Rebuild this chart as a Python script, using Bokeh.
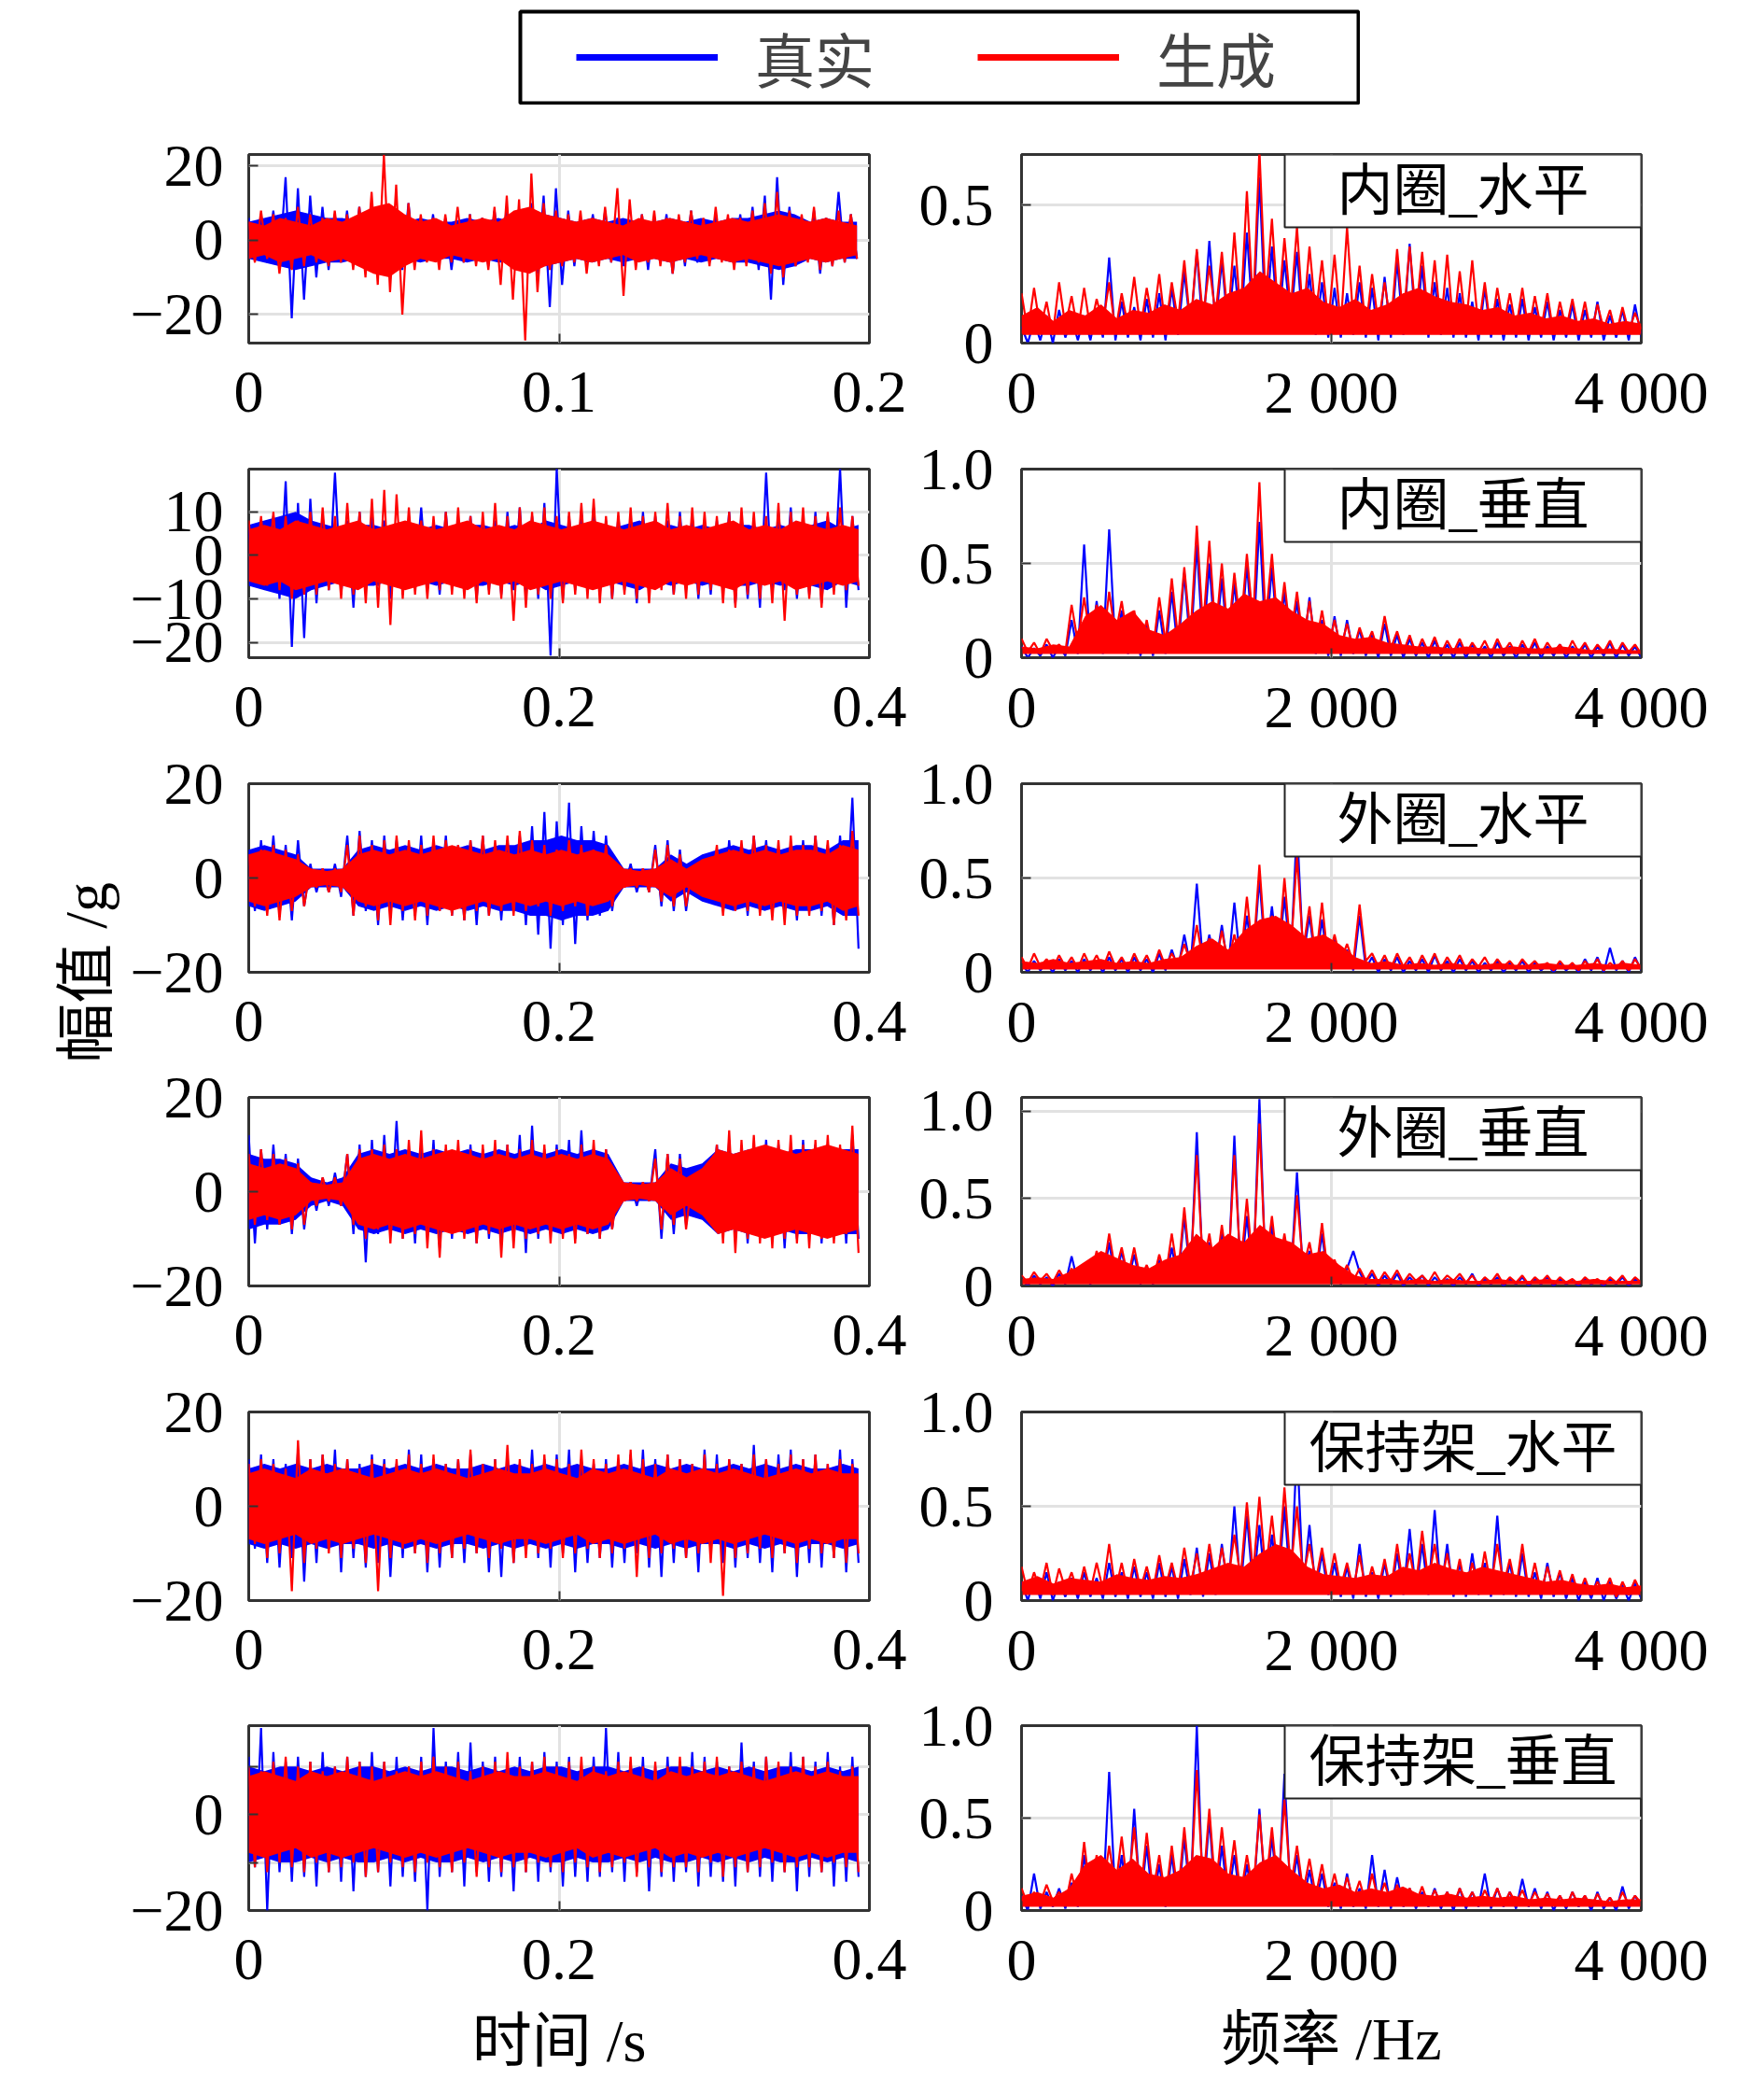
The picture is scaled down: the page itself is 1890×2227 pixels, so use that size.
import numpy as np
from bokeh.plotting import figure
from bokeh.models import Range1d, FixedTicker, Label, Legend, LegendItem, Spacer
from bokeh.layouts import row, column
from bokeh.embed import file_html
from bokeh.resources import INLINE

BLUE = "#0000ff"
RED = "#ff0000"
SERIF = "'Liberation Serif', 'Noto Sans CJK SC'"
CJK = "'Noto Sans CJK SC', 'Liberation Serif'"

# ---------------- data ----------------
legend_labels = ["真实", "生成"]
panel_labels = ["内圈_水平", "内圈_垂直", "外圈_水平", "外圈_垂直", "保持架_水平", "保持架_垂直"]
time_end = [0.196, 0.393, 0.393, 0.393, 0.393, 0.393]
freq_end = 4000

# time-domain signals (g): peak samples
t1_real = [6,-5,7,-6,8,-7,17,-21,14,-16, 12,-10,9,-8,7,-6,8,-7,9,-6, 6,-7,8,-6,7,-8,10,-6,6,-5,
           7,-6,6,-8,5,-6,7,-5,6,-7, 8,-6,9,-7,6,-8,10,-9,12,-18, 14,-12,8,-7,6,-6,7,-5,8,-6,
           6,-7,5,-6,7,-8,6,-5,7,-9, 6,-7,8,-6,5,-6,7,-5,6,-6, 7,-6,9,-8,12,-16,17,-12,9,-7,
           6,-5,8,-9,6,-7,13,-6,7,-5]
t1_gen = [5,-6,8,-5,7,-9,6,-8,9,-7, 7,-6,6,-7,8,-6,7,-8,9,-10, 13,-12,23,-14,15,-20,10,-8,7,-6,
          6,-8,7,-6,9,-6,7,-7,6,-8, 9,-12,12,-16,11,-27,18,-14,10,-8, 8,-7,7,-6,8,-9,6,-7,9,-6,
          14,-15,11,-8,7,-6,8,-7,6,-9, 7,-6,8,-5,6,-7,9,-6,7,-8, 6,-7,8,-6,10,-9,13,-10,8,-7,
          7,-6,9,-8,6,-7,8,-6,7,-5]
t2_real = [6,-7,8,-6,9,-10,17,-21,12,-19, 13,-11,9,-8,19,-9,8,-12,10,-8, 9,-7,8,-10,7,-9,8,-6,11,-8,
           7,-9,10,-7,8,-8,9,-10,7,-8, 8,-9,10,-8,11,-9,9,-10,12,-23, 20,-10,9,-8,10,-7,11,-9,8,-10,
           9,-8,7,-11,10,-8,9,-7,8,-9, 10,-8,9,-10,7,-9,8,-8,10,-11, 9,-10,8,-12,19,-9,10,-8,11,-10,
           8,-9,10,-11,9,-8,20,-12,9,-8]
t2_gen = [8,-6,9,-7,10,-8,9,-10,8,-9, 10,-9,11,-8,9,-10,12,-9,10,-11, 13,-12,15,-16,14,-10,11,-9,8,-10,
          9,-8,10,-9,11,-10,9,-11,10,-9, 12,-10,9,-15,11,-12,10,-9,11,-10, 9,-11,10,-9,12,-10,13,-11,9,-10,
          10,-9,11,-10,9,-11,10,-8,12,-9, 9,-10,11,-9,10,-8,9,-11,10,-12, 11,-9,10,-10,9,-11,12,-15,10,-9,
          11,-10,9,-12,10,-9,11,-8,9,-7]
t3_real = [6,-7,8,-6,9,-8,7,-9,8,-6, 3,-3,2,-3,3,-4,9,-8,10,-7, 8,-10,9,-7,8,-9,7,-8,9,-10,
           8,-7,9,-8,7,-9,8,-10,9,-8, 7,-9,8,-7,9,-10,11,-12,14,-15, 12,-10,16,-14,11,-9,10,-8,9,-7,
           3,-2,3,-3,2,-3,7,-6,8,-7, 6,-7,3,-4,3,-3,6,-7,8,-6, 7,-8,9,-6,8,-7,6,-8,7,-9,
           8,-7,9,-8,7,-10,9,-8,17,-15]
t3_gen = [5,-6,6,-8,7,-9,6,-7,5,-6, 2,-2,2,-3,2,-3,7,-8,9,-6, 7,-9,8,-10,9,-7,8,-9,7,-8,
          9,-7,8,-8,7,-9,8,-7,9,-8, 8,-7,9,-8,10,-7,8,-6,7,-8, 6,-7,8,-6,7,-8,6,-5,7,-6,
          2,-2,2,-2,2,-3,6,-5,7,-6, 5,-6,2,-3,2,-3,7,-8,6,-7, 8,-7,9,-8,7,-9,8,-10,9,-8,
          7,-8,9,-7,8,-10,7,-9,10,-8]
t4_real = [12,-11,9,-8,10,-7,8,-9,7,-8, 3,-4,3,-3,4,-3,8,-9,10,-15, 11,-9,12,-8,15,-10,9,-11,10,-9,
           11,-12,9,-10,8,-9,10,-11,9,-10, 8,-11,10,-9,12,-13,14,-10,9,-8, 10,-9,11,-10,13,-9,8,-10,9,-8,
           3,-2,2,-3,2,-2,9,-10,8,-9, 8,-7,5,-5,4,-5,10,-9,11,-10, 9,-11,10,-8,11,-9,10,-12,9,-10,
           11,-9,10,-11,9,-10,8,-11,12,-10]
t4_gen = [8,-7,9,-6,8,-7,7,-8,6,-7, 2,-3,3,-2,3,-3,8,-7,9,-10, 9,-8,10,-11,9,-10,11,-9,13,-12,
          9,-14,10,-9,11,-10,9,-11,10,-9, 11,-14,10,-12,9,-10,11,-9,10,-11, 9,-10,8,-11,10,-9,11,-10,9,-8,
          2,-2,2,-2,2,-2,7,-8,8,-7, 7,-8,3,-4,3,-4,10,-11,13,-13, 11,-10,12,-11,10,-12,11,-10,12,-11,
          10,-12,11,-10,12,-11,10,-9,14,-13]
t5_real = [10,-9,11,-12,10,-13,9,-11,12,-16, 10,-12,11,-9,12,-14,10,-11,9,-13, 11,-12,10,-15,9,-11,12,-10,11,-14,
           10,-13,9,-11,10,-12,11,-10,9,-14, 10,-15,11,-12,9,-10,12,-11,10,-13, 11,-10,12,-14,10,-12,9,-11,10,-13,
           9,-12,11,-10,12,-13,10,-15,11,-12, 10,-11,9,-14,12,-10,11,-12,10,-13, 9,-11,13,-12,10,-14,11,-10,12,-15,
           10,-12,11,-13,9,-11,12,-14,10,-12]
t5_gen = [9,-8,10,-11,9,-10,8,-18,14,-12, 10,-9,11,-10,9,-11,10,-9,8,-12, 10,-18,9,-11,10,-9,11,-10,9,-12,
          11,-10,9,-11,10,-9,12,-10,9,-11, 10,-9,13,-12,10,-11,9,-10,11,-9, 10,-11,9,-10,12,-9,10,-11,9,-10,
          11,-9,12,-15,10,-11,9,-10,11,-9, 10,-11,9,-10,11,-12,9,-19,10,-11, 9,-10,11,-9,10,-11,9,-10,11,-12,
          10,-9,11,-10,9,-11,10,-12,9,-10]
t6_real = [12,-11,18,-20,13,-12,11,-14,12,-13, 11,-15,13,-12,10,-14,12,-16,11,-13, 13,-12,11,-15,12,-13,10,-14,12,-20,
           18,-13,11,-12,13,-15,15,-12,11,-14, 12,-13,10,-16,12,-12,11,-14,13,-12, 11,-15,12,-13,10,-14,12,-13,18,-12,
           13,-14,11,-12,12,-16,10,-13,12,-14, 11,-12,13,-15,12,-13,11,-14,10,-15, 15,-12,11,-13,12,-14,10,-12,13,-16,
           12,-13,11,-12,13,-15,10,-14,12,-13]
t6_gen = [10,-11,9,-12,11,-10,12,-11,10,-12, 11,-10,9,-12,10,-11,12,-10,11,-13, 10,-12,11,-10,9,-11,10,-12,11,-10,
          12,-11,10,-12,11,-10,9,-13,10,-11, 11,-12,13,-11,10,-12,11,-10,12,-11, 10,-12,11,-10,12,-11,10,-12,9,-11,
          11,-10,12,-13,10,-11,11,-12,10,-11, 12,-11,10,-12,11,-10,12,-13,10,-11, 11,-12,10,-11,12,-10,11,-12,10,-11,
          12,-11,10,-12,11,-10,9,-11,10,-12]

# dense core amplitude of the time signals (g), 40 points along each record
t1_real_band = [5,6,7,8,7,6,6,5,5,6, 5,6,5,5,6,5,6,5,6,7, 6,5,6,5,6,5,5,6,5,6, 5,6,6,7,8,7,5,6,5,5]
t1_gen_band = [5,4,6,5,4,6,5,7,9,10, 7,5,6,4,5,6,5,8,9,7, 6,5,6,5,4,6,5,6,5,4, 5,6,5,6,7,6,5,6,5,4]
t2_real_band = [7,8,9,10,8,7,6,7,7,6, 7,6,7,6,7,7,6,7,6,8, 7,6,7,6,7,8,6,7,6,7, 6,7,7,6,7,6,7,8,6,7]
t2_gen_band = [6,7,6,8,7,6,7,8,6,7, 8,7,6,7,8,6,7,6,8,7, 6,7,8,7,6,7,8,6,7,6, 7,8,6,7,6,8,7,6,7,6]
t3_real_band = [6,7,6,5,2,2,2,6,7,6, 7,6,7,6,7,6,7,7,8,8, 9,8,8,7,2,2,2,5,3,5, 6,7,6,7,6,7,7,6,8,8]
t3_gen_band = [5,6,5,4,2,1.5,2,5,6,5, 6,5,6,7,6,5,6,5,6,5, 6,5,6,5,2,1.5,2,4,2,4, 5,6,5,6,5,6,6,5,7,6]
t4_real_band = [8,7,7,6,3,2,3,8,9,8, 9,8,9,8,9,8,9,8,9,8, 9,8,9,8,2,2,2,6,5,6, 9,8,9,9,8,9,9,8,9,9]
t4_gen_band = [6,5,6,5,2,1.5,2,7,8,7, 8,7,8,9,8,7,8,7,8,7, 8,7,8,7,2,1.5,2,5,3,5, 9,8,9,10,9,8,9,10,9,8]
t5_real_band = [8,9,8,9,8,9,8,8,9,8, 9,8,9,8,8,9,8,9,8,9, 8,9,8,8,9,8,9,8,9,8, 8,9,8,9,8,9,8,8,9,8]
t5_gen_band = [7,8,7,6,8,7,8,7,6,7, 8,7,8,7,6,7,8,7,7,8, 7,6,8,7,8,7,6,8,7,8, 7,8,7,6,7,8,7,8,7,7]
t6_real_band = [10,9,10,10,9,10,9,10,10,9, 10,9,10,10,9,10,9,10,9,10, 10,9,10,10,9,10,9,10,10,9, 10,9,10,9,10,10,9,10,9,10]
t6_gen_band = [8,9,8,7,9,8,9,8,7,8, 9,8,9,8,7,8,9,8,8,9, 8,7,9,8,9,8,7,9,8,9, 8,9,8,7,8,9,8,9,8,8]

# amplitude spectra: peak samples
f1_real = [0.06,0.0,0.08,0.01,0.1,0.0,0.12,0.02,0.09,0.01, 0.1,0.01,0.12,0.02,0.31,0.01,0.15,0.02,0.13,0.01,
           0.16,0.02,0.18,0.01,0.2,0.03,0.26,0.05,0.33,0.04, 0.37,0.06,0.3,0.05,0.28,0.04,0.4,0.07,0.6,0.06,
           0.35,0.05,0.3,0.08,0.33,0.04,0.25,0.03,0.22,0.02, 0.2,0.02,0.18,0.03,0.22,0.02,0.2,0.01,0.24,0.02,
           0.3,0.03,0.36,0.04,0.28,0.02,0.22,0.03,0.2,0.02, 0.18,0.02,0.15,0.01,0.2,0.02,0.16,0.01,0.14,0.02,
           0.16,0.01,0.13,0.02,0.15,0.01,0.12,0.02,0.14,0.01, 0.12,0.02,0.15,0.01,0.1,0.02,0.12,0.01,0.14,0.02]
f1_gen = [0.18,0.04,0.2,0.05,0.15,0.03,0.22,0.06,0.17,0.04, 0.2,0.05,0.16,0.07,0.22,0.04,0.18,0.06,0.24,0.05,
          0.2,0.07,0.25,0.05,0.22,0.08,0.3,0.06,0.34,0.09, 0.28,0.1,0.33,0.08,0.4,0.1,0.55,0.12,0.7,0.15,
          0.45,0.1,0.38,0.12,0.42,0.08,0.35,0.1,0.3,0.07, 0.32,0.06,0.42,0.08,0.28,0.05,0.25,0.07,0.22,0.06,
          0.34,0.08,0.35,0.1,0.33,0.07,0.3,0.06,0.32,0.05, 0.26,0.06,0.3,0.05,0.22,0.04,0.2,0.06,0.18,0.05,
          0.2,0.04,0.17,0.05,0.18,0.03,0.15,0.05,0.16,0.04, 0.15,0.03,0.14,0.05,0.12,0.03,0.13,0.04,0.11,0.05]
f2_real = [0.06,0.0,0.05,0.01,0.07,0.0,0.06,0.01,0.2,0.02, 0.6,0.03,0.3,0.02,0.68,0.04,0.25,0.02,0.22,0.01,
           0.18,0.01,0.25,0.02,0.35,0.03,0.45,0.04,0.6,0.05, 0.5,0.06,0.42,0.04,0.4,0.05,0.5,0.06,0.72,0.08,
           0.48,0.06,0.35,0.04,0.3,0.03,0.32,0.02,0.2,0.01, 0.22,0.01,0.2,0.02,0.15,0.01,0.12,0.0,0.18,0.01,
           0.12,0.0,0.1,0.01,0.08,0.0,0.09,0.01,0.07,0.0, 0.08,0.0,0.07,0.01,0.06,0.0,0.08,0.01,0.06,0.0,
           0.07,0.01,0.08,0.0,0.06,0.01,0.07,0.0,0.06,0.01, 0.07,0.0,0.06,0.01,0.08,0.0,0.07,0.01,0.06,0.0]
f2_gen = [0.1,0.03,0.08,0.02,0.1,0.04,0.07,0.03,0.28,0.08, 0.32,0.1,0.28,0.06,0.35,0.12,0.3,0.08,0.25,0.05,
          0.2,0.04,0.32,0.08,0.42,0.1,0.48,0.12,0.7,0.15, 0.62,0.12,0.5,0.1,0.45,0.15,0.55,0.18,0.93,0.2,
          0.55,0.12,0.4,0.1,0.35,0.08,0.3,0.06,0.25,0.05, 0.2,0.05,0.18,0.04,0.16,0.06,0.14,0.03,0.22,0.05,
          0.14,0.03,0.12,0.02,0.1,0.03,0.11,0.02,0.09,0.03, 0.1,0.02,0.08,0.03,0.09,0.02,0.1,0.03,0.08,0.02,
          0.09,0.03,0.1,0.02,0.08,0.03,0.07,0.02,0.09,0.03, 0.08,0.02,0.07,0.03,0.09,0.02,0.08,0.03,0.07,0.02]
f3_real = [0.05,0.0,0.06,0.01,0.05,0.0,0.07,0.01,0.06,0.0, 0.07,0.01,0.06,0.0,0.08,0.01,0.07,0.0,0.08,0.01,
           0.07,0.0,0.1,0.01,0.12,0.02,0.2,0.03,0.47,0.04, 0.2,0.03,0.25,0.02,0.37,0.04,0.3,0.05,0.5,0.06,
           0.35,0.05,0.4,0.06,0.78,0.08,0.3,0.04,0.28,0.03, 0.18,0.02,0.12,0.01,0.3,0.02,0.08,0.0,0.07,0.01,
           0.08,0.0,0.06,0.01,0.07,0.0,0.09,0.01,0.06,0.0, 0.07,0.01,0.06,0.0,0.05,0.01,0.06,0.0,0.05,0.01,
           0.06,0.0,0.05,0.01,0.04,0.0,0.05,0.01,0.04,0.0, 0.07,0.01,0.08,0.0,0.13,0.01,0.06,0.0,0.08,0.01]
f3_gen = [0.08,0.02,0.1,0.03,0.07,0.02,0.09,0.03,0.08,0.02, 0.1,0.03,0.09,0.02,0.11,0.03,0.08,0.02,0.1,0.03,
          0.09,0.02,0.12,0.03,0.1,0.04,0.15,0.05,0.25,0.06, 0.18,0.04,0.22,0.05,0.2,0.06,0.4,0.08,0.57,0.1,
          0.3,0.08,0.5,0.1,0.62,0.12,0.35,0.06,0.37,0.05, 0.2,0.06,0.15,0.05,0.36,0.06,0.1,0.03,0.09,0.02,
          0.1,0.03,0.08,0.02,0.09,0.03,0.1,0.02,0.08,0.03, 0.09,0.02,0.07,0.03,0.08,0.02,0.07,0.03,0.06,0.02,
          0.07,0.03,0.06,0.02,0.05,0.01,0.06,0.02,0.05,0.01, 0.06,0.02,0.07,0.01,0.05,0.02,0.06,0.01,0.07,0.02]
f4_real = [0.04,0.0,0.06,0.01,0.05,0.0,0.07,0.01,0.17,0.02, 0.08,0.01,0.15,0.02,0.25,0.03,0.2,0.02,0.18,0.01,
           0.1,0.01,0.15,0.02,0.22,0.03,0.4,0.04,0.88,0.05, 0.25,0.03,0.3,0.04,0.86,0.05,0.4,0.04,1.07,0.06,
           0.35,0.04,0.25,0.03,0.65,0.05,0.2,0.03,0.3,0.02, 0.12,0.01,0.1,0.2,0.08,0.01,0.07,0.0,0.06,0.01,
           0.07,0.0,0.05,0.01,0.06,0.0,0.05,0.01,0.04,0.0, 0.05,0.01,0.07,0.0,0.04,0.01,0.05,0.0,0.04,0.01,
           0.05,0.0,0.04,0.01,0.05,0.0,0.04,0.01,0.03,0.0, 0.04,0.01,0.03,0.0,0.04,0.01,0.05,0.0,0.04,0.01]
f4_gen = [0.06,0.02,0.08,0.03,0.07,0.02,0.09,0.03,0.1,0.04, 0.12,0.04,0.2,0.06,0.3,0.08,0.22,0.05,0.22,0.04,
          0.12,0.03,0.18,0.05,0.3,0.06,0.45,0.08,0.75,0.1, 0.3,0.06,0.35,0.08,0.75,0.1,0.5,0.08,0.93,0.1,
          0.4,0.08,0.3,0.06,0.52,0.1,0.25,0.06,0.36,0.05, 0.15,0.04,0.12,0.03,0.1,0.03,0.09,0.02,0.08,0.03,
          0.09,0.02,0.07,0.03,0.06,0.02,0.08,0.02,0.06,0.03, 0.07,0.02,0.06,0.01,0.05,0.02,0.07,0.01,0.05,0.02,
          0.06,0.01,0.05,0.02,0.06,0.01,0.05,0.02,0.04,0.01, 0.05,0.02,0.04,0.01,0.05,0.02,0.06,0.01,0.05,0.02]
f5_real = [0.1,0.0,0.12,0.01,0.15,0.0,0.1,0.02,0.12,0.01, 0.15,0.02,0.12,0.01,0.2,0.02,0.15,0.01,0.18,0.02,
           0.15,0.01,0.2,0.02,0.18,0.01,0.22,0.03,0.28,0.02, 0.25,0.03,0.3,0.04,0.5,0.05,0.45,0.06,0.4,0.05,
           0.35,0.06,0.5,0.05,0.83,0.07,0.4,0.05,0.25,0.03, 0.2,0.02,0.18,0.01,0.3,0.02,0.15,0.01,0.2,0.02,
           0.25,0.03,0.38,0.04,0.3,0.03,0.48,0.04,0.3,0.02, 0.2,0.02,0.25,0.03,0.2,0.02,0.45,0.03,0.2,0.02,
           0.25,0.02,0.15,0.01,0.2,0.02,0.15,0.01,0.12,0.0, 0.1,0.01,0.12,0.0,0.1,0.01,0.08,0.0,0.09,0.01]
f5_gen = [0.18,0.04,0.15,0.05,0.2,0.03,0.17,0.06,0.15,0.04, 0.18,0.05,0.2,0.06,0.3,0.05,0.2,0.04,0.22,0.06,
          0.18,0.05,0.24,0.07,0.2,0.06,0.28,0.08,0.25,0.07, 0.3,0.09,0.28,0.1,0.35,0.12,0.52,0.14,0.55,0.15,
          0.45,0.13,0.6,0.15,0.5,0.12,0.3,0.1,0.28,0.08, 0.25,0.07,0.2,0.06,0.24,0.05,0.18,0.06,0.22,0.05,
          0.3,0.07,0.25,0.08,0.37,0.1,0.3,0.08,0.25,0.06, 0.22,0.05,0.2,0.06,0.26,0.07,0.3,0.08,0.22,0.06,
          0.3,0.05,0.2,0.04,0.18,0.05,0.16,0.04,0.14,0.03, 0.12,0.03,0.1,0.04,0.12,0.02,0.1,0.03,0.11,0.04]
f6_real = [0.08,0.0,0.2,0.01,0.1,0.02,0.12,0.01,0.15,0.02, 0.3,0.03,0.2,0.04,0.75,0.05,0.3,0.03,0.55,0.04,
           0.35,0.03,0.25,0.02,0.3,0.03,0.4,0.04,1.0,0.05, 0.5,0.04,0.35,0.05,0.3,0.03,0.25,0.04,0.55,0.06,
           0.4,0.05,0.74,0.06,0.3,0.04,0.22,0.03,0.2,0.02, 0.15,0.01,0.2,0.02,0.12,0.01,0.3,0.02,0.22,0.01,
           0.18,0.02,0.12,0.01,0.1,0.02,0.12,0.01,0.1,0.0, 0.12,0.01,0.1,0.02,0.2,0.01,0.12,0.02,0.1,0.01,
           0.17,0.02,0.12,0.01,0.1,0.0,0.08,0.01,0.1,0.02, 0.08,0.0,0.1,0.01,0.07,0.0,0.13,0.01,0.08,0.02]
f6_gen = [0.12,0.03,0.1,0.04,0.14,0.05,0.1,0.03,0.2,0.05, 0.37,0.08,0.3,0.1,0.35,0.12,0.4,0.1,0.45,0.08,
          0.42,0.1,0.3,0.06,0.35,0.08,0.45,0.1,0.76,0.12, 0.55,0.1,0.45,0.12,0.38,0.08,0.3,0.1,0.52,0.12,
          0.45,0.1,0.6,0.12,0.35,0.1,0.28,0.08,0.25,0.06, 0.2,0.05,0.18,0.06,0.16,0.04,0.2,0.05,0.15,0.04,
          0.14,0.03,0.12,0.04,0.13,0.03,0.11,0.04,0.1,0.03, 0.12,0.04,0.1,0.03,0.11,0.04,0.12,0.03,0.1,0.04,
          0.11,0.03,0.1,0.04,0.09,0.03,0.08,0.02,0.1,0.03, 0.08,0.02,0.09,0.03,0.07,0.02,0.1,0.03,0.08,0.04]

# dense core of the generated spectra: floor per panel, top at 40 points over 0-4000 Hz
spec_gen_lo = [0.03, 0.02, 0.015, 0.01, 0.03, 0.02]
f1_gen_hi = [0.1,0.13,0.08,0.12,0.1,0.14,0.09,0.12,0.11,0.14, 0.12,0.16,0.14,0.18,0.2,0.26,0.22,0.18,0.2,0.15,
             0.13,0.16,0.12,0.14,0.18,0.2,0.17,0.15,0.14,0.12, 0.13,0.1,0.11,0.09,0.1,0.08,0.09,0.07,0.08,0.07]
f2_gen_hi = [0.06,0.05,0.07,0.06,0.22,0.28,0.2,0.25,0.15,0.12, 0.18,0.25,0.3,0.26,0.34,0.3,0.32,0.25,0.2,0.18,
             0.12,0.1,0.11,0.08,0.07,0.06,0.06,0.05,0.06,0.05, 0.05,0.06,0.05,0.05,0.06,0.05,0.04,0.05,0.04,0.04]
f3_gen_hi = [0.06,0.05,0.07,0.05,0.06,0.07,0.05,0.06,0.05,0.07, 0.08,0.14,0.18,0.12,0.22,0.28,0.3,0.25,0.18,0.2,
             0.15,0.08,0.05,0.06,0.04,0.05,0.04,0.05,0.04,0.04, 0.05,0.04,0.04,0.05,0.04,0.04,0.05,0.04,0.05,0.04]
f4_gen_hi = [0.04,0.05,0.04,0.08,0.14,0.2,0.16,0.12,0.1,0.15, 0.18,0.3,0.22,0.3,0.25,0.35,0.28,0.25,0.18,0.2,
             0.12,0.06,0.04,0.04,0.03,0.04,0.03,0.04,0.03,0.03, 0.04,0.03,0.03,0.04,0.03,0.03,0.04,0.03,0.03,0.03]
f5_gen_hi = [0.1,0.13,0.09,0.12,0.11,0.1,0.14,0.12,0.11,0.13, 0.12,0.14,0.17,0.2,0.18,0.25,0.3,0.27,0.18,0.14,
             0.13,0.12,0.14,0.13,0.18,0.16,0.2,0.17,0.15,0.18, 0.16,0.14,0.12,0.1,0.11,0.09,0.08,0.09,0.07,0.08]
f6_gen_hi = [0.08,0.1,0.07,0.12,0.25,0.3,0.22,0.28,0.2,0.18, 0.22,0.3,0.28,0.2,0.18,0.26,0.3,0.22,0.15,0.12,
             0.14,0.1,0.12,0.1,0.13,0.09,0.08,0.09,0.07,0.08, 0.07,0.08,0.06,0.07,0.06,0.07,0.06,0.05,0.06,0.06]

# axis ranges and ticks
time_yrange = [(-27.7, 23.1), (-23.5, 19.8), (-20, 20), (-20, 20), (-20, 20), (-20, 18.5)]
time_yticks = [[-20, 0, 20], [-20, -10, 0, 10], [-20, 0, 20], [-20, 0, 20], [-20, 0, 20], [-20, -10, 0, 10]]
time_ylabels = [["\u221220", "0", "20"], ["\u221220", "\u221210", "0", "10"], ["\u221220", "0", "20"],
                ["\u221220", "0", "20"], ["\u221220", "0", "20"], ["\u221220", "", "0", ""]]
time_xticks = [[0, 0.1, 0.2]] + [[0, 0.2, 0.4]] * 5
time_xlabels = [["0", "0.1", "0.2"]] + [["0", "0.2", "0.4"]] * 5
spec_ymax = [0.683, 1.0, 1.0, 1.08, 1.0, 1.0]
spec_yticks = [[0, 0.5]] + [[0, 0.5, 1.0]] * 5
spec_ylabels = [["0", "0.5"]] + [["0", "0.5", "1.0"]] * 5
spec_xticks = [0, 2000, 4000]
spec_xlabels = ["0", "2 000", "4 000"]
x_titles = ["时间 /s", "频率 /Hz"]
y_title = "幅值 /g"

time_series = [(t1_real, t1_gen, t1_real_band, t1_gen_band), (t2_real, t2_gen, t2_real_band, t2_gen_band),
               (t3_real, t3_gen, t3_real_band, t3_gen_band), (t4_real, t4_gen, t4_real_band, t4_gen_band),
               (t5_real, t5_gen, t5_real_band, t5_gen_band), (t6_real, t6_gen, t6_real_band, t6_gen_band)]
spec_series = [(f1_real, f1_gen, f1_gen_hi), (f2_real, f2_gen, f2_gen_hi), (f3_real, f3_gen, f3_gen_hi),
               (f4_real, f4_gen, f4_gen_hi), (f5_real, f5_gen, f5_gen_hi), (f6_real, f6_gen, f6_gen_hi)]

# ---------------- layout (pixels) ----------------
ROW_H = [354, 337, 336, 337, 336, 412]
TOP_B = [53, 36, 36, 36, 36, 36]
FRAME_H = 202
LEFT_W, RIGHT_W = 847, 907
TICK_FONT = "64px"
GRID_COLOR = "#e2e2e2"
FRAME_COLOR = "#333333"
XSTAND_LEFT, XSTAND_RIGHT = 31, 17
TITLE_STAND_LEFT, TITLE_STAND_RIGHT = 28, 11


def style(p, xticks, xlabels, yticks, ylabels, xstand, ystand):
    p.xaxis.ticker = FixedTicker(ticks=xticks)
    p.yaxis.ticker = FixedTicker(ticks=yticks)
    p.xaxis.major_label_overrides = {t: l for t, l in zip(xticks, xlabels)}
    p.yaxis.major_label_overrides = {t: l for t, l in zip(yticks, ylabels)}
    for ax in (p.xaxis, p.yaxis):
        ax.major_label_text_font = "Liberation Serif"
        ax.major_label_text_font_size = TICK_FONT
        ax.major_label_text_color = "black"
        ax.axis_line_color = None
        ax.major_tick_in = 10
        ax.major_tick_out = 0
        ax.major_tick_line_color = FRAME_COLOR
        ax.major_tick_line_width = 2
        ax.minor_tick_line_color = None
    p.xaxis.major_label_standoff = xstand
    p.yaxis.major_label_standoff = ystand
    p.grid.grid_line_color = GRID_COLOR
    p.grid.grid_line_width = 3
    p.outline_line_color = FRAME_COLOR
    p.outline_line_width = 3
    p.background_fill_color = "white"
    p.border_fill_color = "white"


def set_title(p, text, standoff):
    p.xaxis.axis_label = text
    p.xaxis.axis_label_text_font = SERIF
    p.xaxis.axis_label_text_font_size = "64px"
    p.xaxis.axis_label_text_font_style = "normal"
    p.xaxis.axis_label_text_color = "black"
    p.xaxis.axis_label_standoff = standoff


rows = []
for k in range(6):
    h = ROW_H[k]
    bot = h - TOP_B[k] - FRAME_H
    real, gen, rband, gband = time_series[k]
    t = np.linspace(0, time_end[k], len(real))
    tb = np.linspace(0, time_end[k], len(rband))
    ylo, yhi = time_yrange[k]
    pl = figure(width=LEFT_W, height=h, title=None, toolbar_location=None, output_backend="svg",
                x_range=Range1d(0, time_xticks[k][-1]), y_range=Range1d(ylo, yhi),
                min_border_left=138, min_border_right=44, min_border_top=TOP_B[k], min_border_bottom=bot)
    rb = np.array(rband, dtype=float)
    gb = np.array(gband, dtype=float)
    pl.varea(x=tb, y1=-rb, y2=rb, fill_color=BLUE)
    pl.line(t, real, line_color=BLUE, line_width=2.2)
    pl.varea(x=tb, y1=-gb, y2=gb, fill_color=RED)
    pl.line(t, gen, line_color=RED, line_width=2.2)
    style(pl, time_xticks[k], time_xlabels[k], time_yticks[k], time_ylabels[k], XSTAND_LEFT, 27)

    sr, sg, sg_hi = spec_series[k]
    f = np.linspace(0, freq_end, len(sr))
    fb = np.linspace(0, freq_end, len(sg_hi))
    pr = figure(width=RIGHT_W, height=h, title=None, toolbar_location=None, output_backend="svg",
                x_range=Range1d(0, freq_end), y_range=Range1d(0, spec_ymax[k]),
                min_border_left=119, min_border_right=124, min_border_top=TOP_B[k], min_border_bottom=bot)
    pr.line(f, sr, line_color=BLUE, line_width=2.2)
    pr.varea(x=fb, y1=spec_gen_lo[k], y2=sg_hi, fill_color=RED)
    pr.line(f, sg, line_color=RED, line_width=2.2)
    style(pr, spec_xticks, spec_xlabels, spec_yticks[k], spec_ylabels[k], XSTAND_RIGHT, 30)
    n = len(panel_labels[k])
    text_w = (n - 1) * 60 + 30
    pad_h = max(4, int((382 - text_w) / 2))
    pr.add_layout(Label(x=freq_end, y=spec_ymax[k], text=panel_labels[k], anchor="top_right",
                        text_font=SERIF, text_font_size="60px", text_color="black",
                        background_fill_color="white", border_line_color="#222222",
                        border_line_width=2, padding=(pad_h, 6)))
    if k == 5:
        set_title(pl, x_titles[0], TITLE_STAND_LEFT)
        set_title(pr, x_titles[1], TITLE_STAND_RIGHT)
    rows.append(row(pl, pr))

# y title column
yf = figure(width=128, height=sum(ROW_H), title=None, toolbar_location=None, output_backend="svg",
            x_range=Range1d(0, 1), y_range=Range1d(0, 1), min_border=0,
            x_axis_location=None, y_axis_location=None, outline_line_color=None)
yf.grid.visible = False
yf.add_layout(Label(x=0.719, y=0.560, text=y_title, angle=np.pi / 2, text_align="center",
                    text_baseline="middle", text_font=SERIF, text_font_size="64px", text_color="black"))

# legend box (its swatch lines reuse the first record, drawn outside the visible range)
lf = figure(width=902, height=102, title=None, toolbar_location=None, output_backend="svg",
            x_range=Range1d(10, 11), y_range=Range1d(100, 101),
            x_axis_location=None, y_axis_location=None, min_border=2,
            outline_line_color="black", outline_line_width=4)
lf.grid.visible = False
t_leg = np.linspace(0, time_end[0], len(t1_real))
r_real = lf.line(t_leg, t1_real, line_color=BLUE, line_width=7)
r_gen = lf.line(t_leg, t1_gen, line_color=RED, line_width=7)
leg = Legend(items=[LegendItem(label=legend_labels[0], renderers=[r_real]),
                    LegendItem(label=legend_labels[1], renderers=[r_gen])],
             orientation="horizontal", location="center_left", border_line_alpha=0,
             background_fill_alpha=0, label_text_font=CJK, label_text_font_size="64px",
             glyph_width=152, glyph_height=40, label_height=40, label_standoff=40,
             spacing=110, padding=0, margin=60)
lf.add_layout(leg, "center")

top = row(Spacer(width=555, height=112), column(Spacer(width=902, height=10), lf))
layout = column(top, row(yf, column(*rows)))

open("out.html", "w").write(file_html(layout, INLINE))
